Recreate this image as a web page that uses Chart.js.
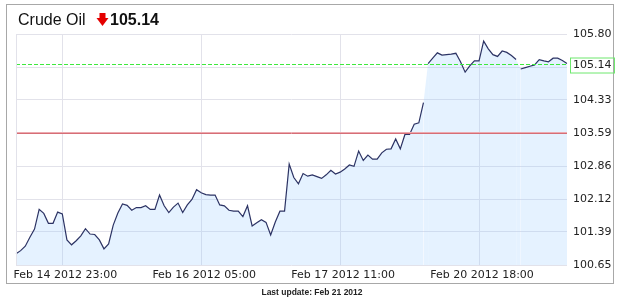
<!DOCTYPE html>
<html><head><meta charset="utf-8">
<script src="https://cdn.jsdelivr.net/npm/chart.js@4/dist/chart.umd.min.js"></script>
<style>html,body{margin:0;padding:0;background:#fff;}#wrap{position:relative;width:621px;height:298px;}</style>
</head><body><div id="wrap"><canvas id="c" width="621" height="298"></canvas></div>
<script>
const titleText = "Crude Oil";
const lastValue = 105.14;
const footerText = "Last update: Feb 21 2012";
// hourly closing prices
const prices = [
 100.90,100.97,101.07,101.27,101.45,101.89,101.80,101.58,101.58,101.83,
 101.79,101.21,101.10,101.19,101.30,101.46,101.34,101.33,101.21,101.01,
 101.12,101.54,101.81,102.01,101.98,101.87,101.93,101.93,101.97,101.89,
 101.89,102.21,101.97,101.82,101.94,102.03,101.82,101.99,102.11,102.33,
 102.26,102.22,102.21,102.21,101.99,101.97,101.87,101.85,101.85,101.73,
 101.97,101.52,101.59,101.66,101.60,101.32,101.61,101.85,101.85,102.90,
 102.60,102.46,102.69,102.63,102.66,102.62,102.58,102.66,102.76,102.68,
 102.72,102.79,102.88,102.85,103.19,102.98,103.10,103.01,103.01,103.15,
 103.23,103.24,103.46,103.24,103.56,103.56,103.79,103.82,104.27,105.14,
 105.26,105.38,105.33,105.34,105.35,105.37,105.18,104.95,105.09,105.20,
 105.20,105.64,105.47,105.34,105.30,105.42,105.39,105.32,105.23,105.02,
 105.05,105.08,105.11,105.23,105.20,105.18,105.26,105.26,105.21,105.14
];
const lineBreaks = [88, 108];          // segments not drawn (trading pauses)
const tickIndices = [10, 40, 70, 100];
const tickLabels = ["Feb 14 2012 23:00","Feb 16 2012 05:00","Feb 17 2012 11:00","Feb 20 2012 18:00"];
const yTickValues = [100.65, 101.386, 102.121, 102.857, 103.593, 104.329, 105.064, 105.80];
const yTickLabels = ["100.65","101.39","102.12","102.86","103.59","104.33","","105.80"];
const refLevel = 103.593;

const categories = prices.map((_, i) => i);
const NAVY = '#2c3364';
const GRID = 'rgb(226,226,234)';
const TICKFONT = {family: "'DejaVu Sans', Verdana, sans-serif", size: 11};

const deco = {
  id: 'deco',
  beforeDraw(chart) {
    const c = chart.ctx;
    c.save();
    c.fillStyle = '#fff';
    c.fillRect(0, 0, chart.width, chart.height);
    c.strokeStyle = '#a8a8a8';
    c.lineWidth = 1;
    c.strokeRect(6.5, 4.5, 607, 279);
    c.restore();
  },
  afterDatasetsDraw(chart) {
    const c = chart.ctx, a = chart.chartArea, y = chart.scales.y;
    c.save();
    // reference level line
    const ry = Math.round(y.getPixelForValue(refLevel));
    c.strokeStyle = 'rgba(236,170,176,1)';
    c.lineWidth = 1;
    c.beginPath(); c.moveTo(a.left, ry - 0.5); c.lineTo(a.right, ry - 0.5); c.stroke();
    c.strokeStyle = 'rgb(214,110,118)';
    c.beginPath(); c.moveTo(a.left, ry + 0.5); c.lineTo(a.right, ry + 0.5); c.stroke();
    // last value dashed line
    const gy = Math.round(y.getPixelForValue(lastValue)) + 0.5;
    c.strokeStyle = '#3ee83e';
    c.setLineDash([4, 2]);
    c.beginPath(); c.moveTo(a.left, gy); c.lineTo(a.right, gy); c.stroke();
    c.setLineDash([]);
    // boxed label
    c.strokeStyle = '#6ee86e';
    c.strokeRect(570.5, gy - 6.5, 44, 15);
    c.fillStyle = '#222';
    c.font = "11px 'DejaVu Sans', Verdana, sans-serif";
    c.textBaseline = 'middle';
    c.textAlign = 'left';
    c.fillText(lastValue.toFixed(2), 573, gy + 1);
    // left border of plot
    c.strokeStyle = GRID;
    c.beginPath(); c.moveTo(a.left + 0.5, a.top); c.lineTo(a.left + 0.5, a.bottom); c.stroke();
    c.restore();
  },
  afterDraw(chart) {
    const c = chart.ctx;
    c.save();
    c.fillStyle = '#111';
    c.font = "16px 'Liberation Sans', Arial, sans-serif";
    c.textBaseline = 'alphabetic';
    c.fillText(titleText, 18, 25);
    // down arrow
    c.fillStyle = '#e40000';
    c.beginPath();
    c.moveTo(99.5, 13); c.lineTo(105.5, 13); c.lineTo(105.5, 18);
    c.lineTo(108.5, 18); c.lineTo(102.5, 26); c.lineTo(96.5, 18); c.lineTo(99.5, 18);
    c.closePath(); c.fill();
    c.fillStyle = '#111';
    c.font = "bold 16px 'Liberation Sans', Arial, sans-serif";
    c.fillText(lastValue.toFixed(2), 110, 25);
    // footer
    c.font = "bold 8.5px 'Liberation Sans', Arial, sans-serif";
    c.textAlign = 'center';
    c.fillStyle = '#222';
    c.fillText(footerText, 312, 295);
    c.restore();
  }
};

new Chart(document.getElementById('c'), {
  type: 'line',
  data: {
    labels: categories,
    datasets: [{
      data: prices,
      borderColor: NAVY,
      borderWidth: 1.2,
      pointRadius: 0,
      tension: 0,
      fill: 'start',
      backgroundColor: 'rgba(153,204,255,0.25)',
      segment: {
        borderColor: ctx => lineBreaks.includes(ctx.p0DataIndex) ? 'rgba(0,0,0,0)' : NAVY
      }
    }]
  },
  options: {
    responsive: false,
    animation: false,
    devicePixelRatio: 1,
    layout: {padding: {left: 16, top: 34, right: 0, bottom: 0}},
    plugins: {legend: {display: false}, tooltip: {enabled: false}},
    scales: {
      x: {
        type: 'category',
        grid: {color: GRID, drawTicks: false},
        border: {display: false},
        ticks: {
          autoSkip: false, maxRotation: 0, minRotation: 0, padding: 4, labelOffset: 3,
          font: TICKFONT, color: '#222',
          callback: (v, i) => {
            const k = tickIndices.indexOf(i);
            if (k >= 0) return tickLabels[k];
            return null;
          }
        },
        afterFit: s => { s.height = 33; }
      },
      y: {
        position: 'right',
        min: 100.65, max: 105.80,
        afterBuildTicks: s => { s.ticks = yTickValues.map(v => ({value: v})); },
        grid: {color: GRID, drawTicks: false},
        border: {display: false},
        ticks: {
          padding: 6, font: TICKFONT, color: '#222',
          callback: (v, i) => yTickLabels[i]
        },
        afterFit: s => { s.width = 54; }
      }
    }
  },
  plugins: [deco]
});
</script>
</body></html>
